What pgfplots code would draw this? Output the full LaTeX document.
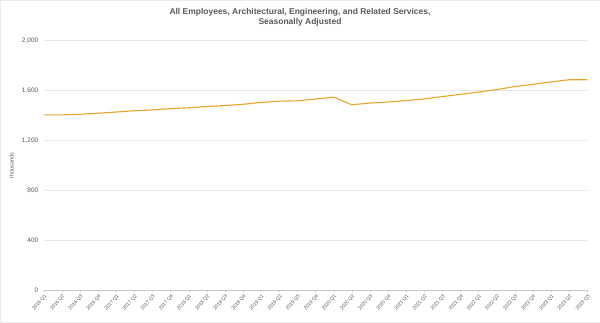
\documentclass[border=0pt]{standalone}
\usepackage{pgfplots}
\pgfplotsset{compat=1.18}
\usepackage{fontspec}
\setmainfont{Liberation Sans}
\definecolor{lineor}{HTML}{E9A42B}
\definecolor{txtg}{HTML}{595959}
\definecolor{gridg}{HTML}{E6E6E6}
\begin{document}
\begin{tikzpicture}[x=1bp,y=1bp]
\draw[gridg!80] (0.5,0.5) rectangle (599.5,322.5);
\node[font=\bfseries\fontsize{8.5}{10}\selectfont, text=txtg, align=center] at (300,305) {All Employees, Architectural, Engineering, and Related Services,\\Seasonally Adjusted};
\begin{axis}[
  at={(44bp,33bp)}, anchor=south west,
  scale only axis, width=543bp, height=249bp,
  xmin=0, xmax=30, ymin=0, ymax=2000,
  axis line style={draw=none},
  axis x line*=bottom,
  x axis line style={draw=gridg!70!gray, line width=0.6pt},
  ytick={0,400,800,1200,1600,2000},
  ymajorgrids, grid style={gridg, line width=0.6pt},
  major y tick style={draw=none},
  xtick={0,...,30},
  xticklabels={2016 Q1,2016 Q2,2016 Q3,2016 Q4,2017 Q1,2017 Q2,2017 Q3,2017 Q4,2018 Q1,2018 Q2,2018 Q3,2018 Q4,2019 Q1,2019 Q2,2019 Q3,2019 Q4,2020 Q1,2020 Q2,2020 Q3,2020 Q4,2021 Q1,2021 Q2,2021 Q3,2021 Q4,2022 Q1,2022 Q2,2022 Q3,2022 Q4,2023 Q1,2023 Q2,2023 Q3},
  x tick label style={rotate=50, anchor=north east, font=\fontsize{5}{6}\selectfont, text=txtg, inner sep=1pt},
  major x tick style={draw=gridg!70!gray},
  tick align=outside, major tick length=2bp,
  y tick label style={font=\fontsize{6.5}{7}\selectfont, text=txtg},
  /pgf/number format/assume math mode=true,
  /pgf/number format/1000 sep={,},
  ylabel={thousands},
  every axis y label/.style={at={(-32bp,0.5)}, rotate=90, anchor=center, font=\fontsize{5.5}{6}\selectfont, text=txtg},
  clip=false,
]
\addplot[lineor, line width=1.1pt, mark=none] coordinates {
(0,1405)(1,1405)(2,1410)(3,1418)(4,1428)(5,1438)(6,1445)(7,1455)(8,1462)(9,1472)(10,1480)(11,1490)(12,1505)(13,1515)(14,1518)(15,1532)(16,1548)(17,1486)(18,1500)(19,1508)(20,1520)(21,1533)(22,1552)(23,1570)(24,1588)(25,1608)(26,1632)(27,1650)(28,1670)(29,1687)(30,1687)
};
\end{axis}
\end{tikzpicture}
\end{document}
